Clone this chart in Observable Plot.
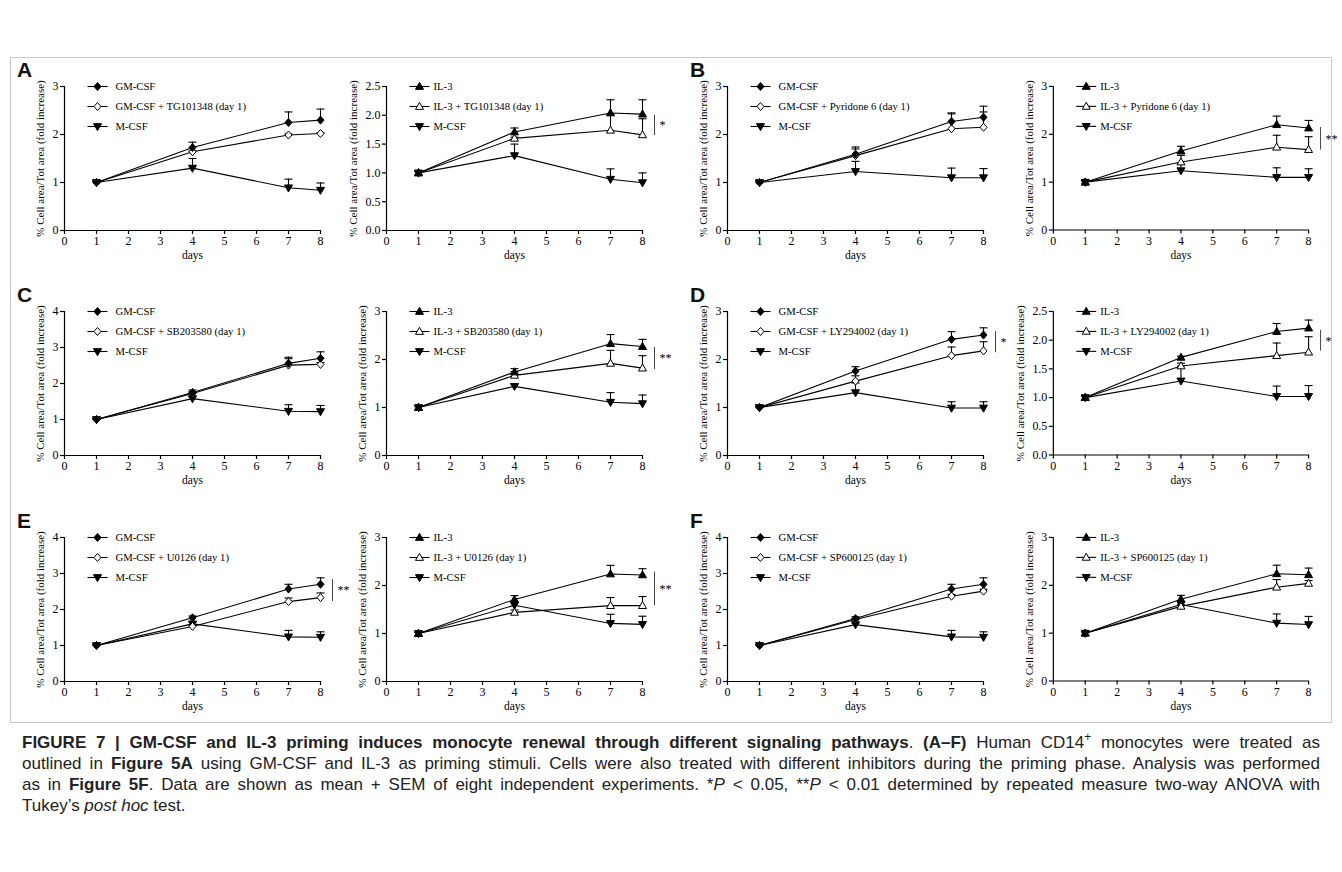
<!DOCTYPE html>
<html>
<head>
<meta charset="utf-8">
<script src="https://cdn.jsdelivr.net/npm/d3@7"></script>
<script src="https://cdn.jsdelivr.net/npm/@observablehq/plot@0.6"></script>
<style>
  html, body { margin: 0; padding: 0; background: #fff; }
  #page { position: relative; width: 1342px; height: 872px; overflow: hidden; background: #fff; }
  #box { position: absolute; left: 10px; top: 57px; width: 1322px; height: 666px; border: 1px solid #c8c8c8; box-sizing: border-box; }
  .panel { position: absolute; }
  .letter { position: absolute; font-family: "Liberation Sans", Arial, sans-serif; font-weight: bold; font-size: 21px; line-height: 24px; color: #111; }
  #caption { position: absolute; left: 22px; top: 732px; width: 1298px; font-family: "Liberation Sans", Arial, sans-serif; font-size: 17px; line-height: 21px; color: #222; }
  #caption .ln { white-space: nowrap; text-align: justify; text-align-last: justify; }
  #caption .ln.last { text-align-last: left; }
  #caption sup { font-size: 0.7em; line-height: 0; }
</style>
</head>
<body>
<div id="page">
  <div id="box"></div>
  <div id="caption">
    <div class="ln"><b>FIGURE 7 | GM-CSF and IL-3 priming induces monocyte renewal through different signaling pathways</b>. <b>(A–F)</b> Human CD14<sup>+</sup> monocytes were treated as</div>
    <div class="ln">outlined in <b>Figure 5A</b> using GM-CSF and IL-3 as priming stimuli. Cells were also treated with different inhibitors during the priming phase. Analysis was performed</div>
    <div class="ln">as in <b>Figure 5F</b>. Data are shown as mean + SEM of eight independent experiments. *<i>P</i> &lt; 0.05, **<i>P</i> &lt; 0.01 determined by repeated measure two-way ANOVA with</div>
    <div class="ln last">Tukey’s <i>post hoc</i> test.</div>
  </div>
</div>
<script>
// ---------------- DATA ----------------
const days = [1, 4, 7, 8];
const letters = ["A", "B", "C", "D", "E", "F"];
const inhibitors = ["TG101348", "Pyridone 6", "SB203580", "LY294002", "U0126", "SP600125"];
const yLabel = "% Cell area/Tot area (fold increase)";
const xLabel = "days";
const xTicks = [0, 1, 2, 3, 4, 5, 6, 7, 8];

// left panels: GM-CSF, GM-CSF + inhibitor, M-CSF
const gmMean = [
  [1, 1.73, 2.25, 2.30], [1, 1.59, 2.27, 2.36], [1, 1.75, 2.56, 2.70],
  [1, 1.76, 2.42, 2.51], [1, 1.77, 2.57, 2.70], [1, 1.75, 2.57, 2.70]];
const gmSem = [
  [0.04, 0.11, 0.22, 0.23], [0.03, 0.15, 0.18, 0.23], [0.04, 0.07, 0.17, 0.18],
  [0.03, 0.09, 0.16, 0.15], [0.03, 0.05, 0.13, 0.18], [0.03, 0.05, 0.13, 0.18]];
const gmInhMean = [
  [1, 1.64, 1.99, 2.02], [1, 1.56, 2.12, 2.15], [1, 1.72, 2.51, 2.53],
  [1, 1.55, 2.08, 2.18], [1, 1.53, 2.22, 2.33], [1, 1.72, 2.37, 2.51]];
const gmInhSem = [
  [0.02, 0.02, 0.02, 0.02], [0.02, 0.14, 0.31, 0.32], [0.02, 0.05, 0.18, 0.05],
  [0.02, 0.11, 0.18, 0.19], [0.02, 0.03, 0.10, 0.13], [0.02, 0.03, 0.05, 0.05]];
const mGmMean = [
  [1, 1.30, 0.89, 0.84], [1, 1.23, 1.10, 1.10], [1, 1.58, 1.23, 1.22],
  [1, 1.31, 0.99, 0.99], [1, 1.60, 1.24, 1.23], [1, 1.58, 1.24, 1.23]];
const mGmSem = [
  [0.03, 0.20, 0.18, 0.15], [0.03, 0.21, 0.20, 0.19], [0.03, 0.05, 0.18, 0.17],
  [0.03, 0.20, 0.13, 0.13], [0.03, 0.05, 0.18, 0.15], [0.03, 0.04, 0.18, 0.15]];

// right panels: IL-3, IL-3 + inhibitor, M-CSF
const il3Mean = [
  [1, 1.71, 2.04, 2.02], [1, 1.65, 2.20, 2.13], [1, 1.74, 2.33, 2.27],
  [1, 1.70, 2.15, 2.21], [1, 1.71, 2.24, 2.22], [1, 1.71, 2.24, 2.22]];
const il3Sem = [
  [0.03, 0.07, 0.23, 0.25], [0.04, 0.10, 0.18, 0.16], [0.03, 0.07, 0.19, 0.15],
  [0.03, 0.02, 0.14, 0.14], [0.03, 0.08, 0.18, 0.13], [0.03, 0.08, 0.18, 0.14]];
const il3InhMean = [
  [1, 1.60, 1.74, 1.66], [1, 1.42, 1.73, 1.68], [1, 1.67, 1.92, 1.82],
  [1, 1.55, 1.73, 1.79], [1, 1.44, 1.58, 1.58], [1, 1.56, 1.96, 2.04]];
const il3InhSem = [
  [0.02, 0.02, 0.27, 0.28], [0.02, 0.14, 0.25, 0.27], [0.02, 0.08, 0.27, 0.26],
  [0.02, 0.05, 0.22, 0.27], [0.02, 0.05, 0.17, 0.19], [0.02, 0.03, 0.16, 0.06]];
const mIlMean = [
  [1, 1.30, 0.89, 0.83], [1, 1.24, 1.10, 1.10], [1, 1.44, 1.11, 1.08],
  [1, 1.29, 1.02, 1.02], [1, 1.59, 1.21, 1.19], [1, 1.60, 1.21, 1.18]];
const mIlSem = [
  [0.03, 0.20, 0.18, 0.17], [0.03, 0.14, 0.20, 0.18], [0.03, 0.05, 0.20, 0.18],
  [0.03, 0.26, 0.18, 0.19], [0.03, 0.06, 0.19, 0.17], [0.03, 0.05, 0.19, 0.17]];

// axes
const leftYMax = [3, 3, 4, 3, 4, 4];
const leftYStep = [1, 1, 1, 1, 1, 1];
const rightYMax = [2.5, 3, 3, 2.5, 3, 3];
const rightYStep = [0.5, 1, 1, 0.5, 1, 1];

// significance brackets (top, bottom in data units)
const sigLeftLabel = ["", "", "", "*", "**", ""];
const sigLeftTop = [0, 0, 0, 2.58, 2.83, 0];
const sigLeftBottom = [0, 0, 0, 2.14, 2.22, 0];
const sigRightLabel = ["*", "**", "**", "*", "**", ""];
const sigRightTop = [2.00, 2.14, 2.25, 2.17, 2.28, 0];
const sigRightBottom = [1.65, 1.67, 1.79, 1.81, 1.58, 0];

// ---------------- LAYOUT ----------------
const colAxisX = [64, 386, 727, 1053];
const rowTopY = [86, 311, 537];
const frameW = 256, frameH = 144;
const mL = 60, mR = 34, mT = 20, mB = 40;

// ---------------- SYMBOLS ----------------
const rad = size => Math.sqrt(size / Math.PI);
const symDiamond = {draw(ctx, size) { const r = rad(size); ctx.moveTo(0, -r * 1.15); ctx.lineTo(r, 0); ctx.lineTo(0, r * 1.15); ctx.lineTo(-r, 0); ctx.closePath(); }};
const symTriUp = {draw(ctx, size) { const r = rad(size); ctx.moveTo(0, -r * 1.1); ctx.lineTo(r * 1.05, r * 0.75); ctx.lineTo(-r * 1.05, r * 0.75); ctx.closePath(); }};
const symTriDown = {draw(ctx, size) { const r = rad(size); ctx.moveTo(0, r * 1.1); ctx.lineTo(r * 1.05, -r * 0.75); ctx.lineTo(-r * 1.05, -r * 0.75); ctx.closePath(); }};
const symCap = {draw(ctx, size) { const r = rad(size); ctx.moveTo(-r, 0); ctx.lineTo(r, 0); }};
const symLegLine = {draw(ctx, size) { const r = rad(size); ctx.moveTo(-r, 0); ctx.lineTo(r, 0); }};

const page = document.getElementById("page");

function drawPanel(i, isLeft) {
  const row = Math.floor(i / 2);
  const col = (i % 2) * 2 + (isLeft ? 0 : 1);
  const yMax = isLeft ? leftYMax[i] : rightYMax[i];
  const yStep = isLeft ? leftYStep[i] : rightYStep[i];
  const yTicks = d3.range(0, yMax + 1e-9, yStep);
  const series = isLeft ? [
    {name: "GM-CSF", mean: gmMean[i], sem: gmSem[i], sym: symDiamond, fill: "black", r: 3.5},
    {name: `GM-CSF + ${inhibitors[i]} (day 1)`, mean: gmInhMean[i], sem: gmInhSem[i], sym: symDiamond, fill: "white", r: 3.5},
    {name: "M-CSF", mean: mGmMean[i], sem: mGmSem[i], sym: symTriDown, fill: "black", r: 3.8}
  ] : [
    {name: "IL-3", mean: il3Mean[i], sem: il3Sem[i], sym: symTriUp, fill: "black", r: 3.8},
    {name: `IL-3 + ${inhibitors[i]} (day 1)`, mean: il3InhMean[i], sem: il3InhSem[i], sym: symTriUp, fill: "white", r: 3.8},
    {name: "M-CSF", mean: mIlMean[i], sem: mIlSem[i], sym: symTriDown, fill: "black", r: 3.8}
  ];
  const rows = series.map((s, k) => days.map((d, j) => ({s: k, day: d, value: s.mean[j], upper: s.mean[j] + s.sem[j]})));
  const all = rows.flat();
  const legTextDx = isLeft ? 51 : 47;
  const marks = [
    Plot.ruleY([0], {stroke: "black", strokeWidth: 1.2}),
    Plot.ruleX([0], {stroke: "black", strokeWidth: 1.2}),
    Plot.axisX({ticks: xTicks, tickSize: 4, tickPadding: 2, tickFormat: d3.format("d"), label: null, stroke: "black", strokeWidth: 1.2}),
    Plot.axisY({ticks: yTicks, tickSize: 4, tickPadding: 2, tickFormat: yStep < 1 ? d3.format(".1f") : d3.format("d"), label: null, stroke: "black", strokeWidth: 1.2}),
    Plot.text([yLabel], {frameAnchor: "left", rotate: -90, dx: yStep < 1 ? -33 : -24, text: d => d, textAnchor: "middle", fontSize: 11, fill: "black"}),
    Plot.text([xLabel], {frameAnchor: "bottom", dy: 25, text: d => d, textAnchor: "middle", fontSize: 11.5, fill: "black", lineAnchor: "middle"}),
    Plot.line(all, {x: "day", y: "value", z: "s", stroke: "black", strokeWidth: 1.1}),
    Plot.ruleX(all, {x: "day", y1: "value", y2: "upper", stroke: "black", strokeWidth: 1.1}),
    Plot.dot(all, {x: "day", y: "upper", symbol: symCap, r: 4, fill: "none", stroke: "black", strokeWidth: 1.1})
  ];
  [2, 1, 0].forEach(k => {
    const s = series[k];
    marks.push(Plot.dot(rows[k], {x: "day", y: "value", symbol: s.sym, r: s.r, fill: s.fill, stroke: "black", strokeWidth: 1}));
  });
  series.forEach((s, k) => {
    marks.push(Plot.dot([s], {frameAnchor: "top-left", dx: 33, dy: 20 * k, symbol: symLegLine, r: 10, fill: "none", stroke: "black", strokeWidth: 1.1}));
    marks.push(Plot.dot([s], {frameAnchor: "top-left", dx: 33, dy: 20 * k, symbol: s.sym, r: s.r, fill: s.fill, stroke: "black", strokeWidth: 1}));
    marks.push(Plot.text([s], {frameAnchor: "top-left", dx: legTextDx, dy: 20 * k, text: d => d.name, textAnchor: "start", lineAnchor: "middle", fontSize: 10.7, fill: "black"}));
  });
  const sigLabel = isLeft ? sigLeftLabel[i] : sigRightLabel[i];
  if (sigLabel) {
    const sig = [{label: sigLabel, top: isLeft ? sigLeftTop[i] : sigRightTop[i], bottom: isLeft ? sigLeftBottom[i] : sigRightBottom[i]}];
    marks.push(Plot.ruleX(sig, {x: () => days[days.length - 1], y1: "top", y2: "bottom", dx: 12, stroke: "#444", strokeWidth: 1}));
    marks.push(Plot.text(sig, {x: () => days[days.length - 1], y: d => (d.top + d.bottom) / 2, text: "label", dx: 17, textAnchor: "start", fontSize: 12, fill: "black"}));
  }
  const svg = Plot.plot({
    width: mL + frameW + mR, height: mT + frameH + mB,
    marginLeft: mL, marginRight: mR, marginTop: mT, marginBottom: mB,
    x: {domain: [0, 8]},
    y: {domain: [0, yMax]},
    style: {fontFamily: "'Liberation Serif', 'Times New Roman', serif", fontSize: "12px", color: "black", background: "transparent", overflow: "visible"},
    marks
  });
  const div = document.createElement("div");
  div.className = "panel";
  div.style.left = (colAxisX[col] - mL) + "px";
  div.style.top = (rowTopY[row] - mT) + "px";
  div.appendChild(svg);
  page.appendChild(div);
  if (isLeft) {
    const L = document.createElement("div");
    L.className = "letter";
    L.textContent = letters[i];
    L.style.left = (colAxisX[col] - (col > 0 ? 37 : 47)) + "px";
    L.style.top = (rowTopY[row] - 28) + "px";
    page.appendChild(L);
  }
}

for (let i = 0; i < 6; i++) { drawPanel(i, true); drawPanel(i, false); }
</script>
</body>
</html>
